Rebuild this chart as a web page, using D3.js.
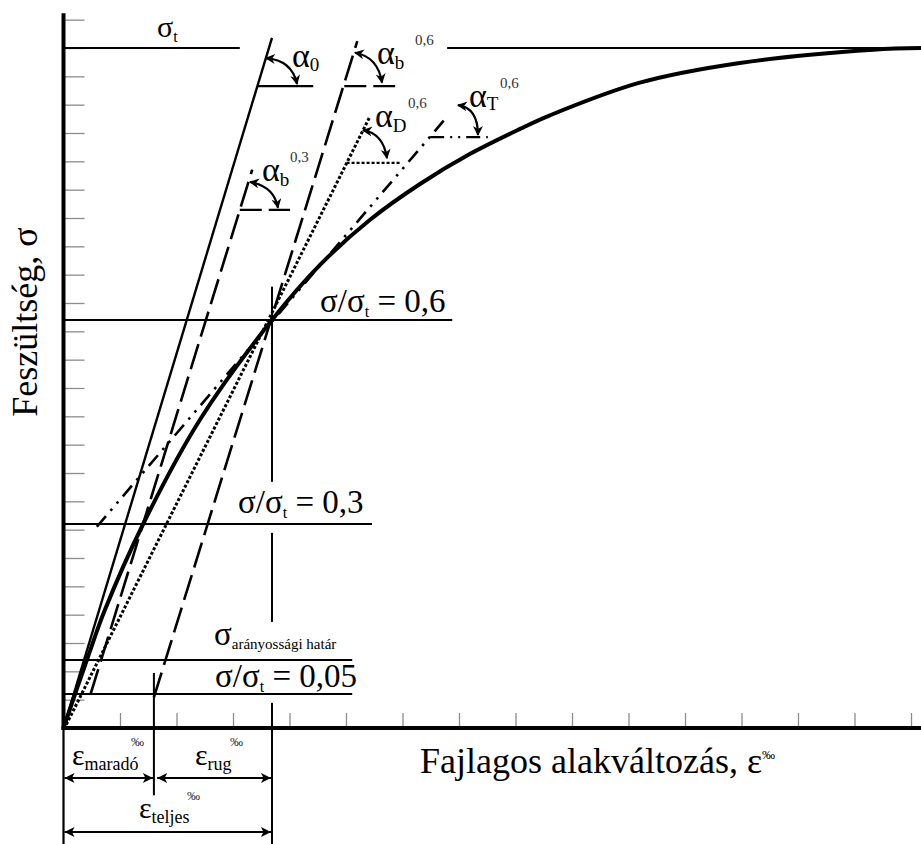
<!DOCTYPE html>
<html lang="hu">
<head>
<meta charset="UTF-8">
<title>Feszültség - alakváltozás</title>
<script src="https://d3js.org/d3.v7.min.js"></script>
<style>
  body { margin: 0; background: #fff; }
  svg { display: block; }
  text { font-family: "Liberation Serif", "Times New Roman", serif; fill: #000; }
  .tick line { stroke: #8c8c8c; stroke-width: 1.3; }
  .tick text { display: none; }
</style>
</head>
<body>
<div id="chart"></div>
<script>
// --- data (ε in tick units, σ as σ/σt) ---
const curveEps = [0, 0.43, 0.73, 1.41, 2.42, 3.69, 4.54, 5.42, 6.31, 7.19, 8.08, 8.61, 10.20, 11.97, 14.33, 15.18];
const curveSig = [0, 0.104, 0.173, 0.300, 0.454, 0.600, 0.681, 0.747, 0.800, 0.844, 0.881, 0.901, 0.949, 0.978, 0.9975, 1.0];

const xTicks = d3.range(1, 16);
const yTicks = d3.range(1, 26).map(k => k / 24);

// construction lines [ε, σ/σt]
const tangent0 = [[0, 0], [3.69, 1.015]];           // α0
const chordB06 = [[1.6, 0.045], [5.2, 1.01]];        // αb 0,6
const chordB03 = [[0.48, 0.05], [3.34, 0.821]];      // αb 0,3
const secantD06 = [[0.05, 0.005], [5.41, 0.897]];    // αD 0,6
const tangentT06 = [[0.59, 0.296], [6.79, 0.899]];   // αT 0,6

// horizontal reference levels
const levels = [0.6, 0.3, 0.10, 0.05];
const levelEnds = [6.88, 5.46, 5.11, 5.11];
const sigmaT = 1;

// angle helpers: horizontal at level, from ε0 to ε1
const angleBases = [
  { s: 0.944, e0: 3.43, e1: 4.42, dash: null },
  { s: 0.944, e0: 4.97, e1: 5.87, dash: "22,7" },
  { s: 0.831, e0: 5.01, e1: 5.96, dash: "3,2" },
  { s: 0.869, e0: 6.49, e1: 7.51, dash: "14,6,2,6,2,6" },
  { s: 0.762, e0: 3.12, e1: 4.01, dash: "22,7" }
];
// arc arrows: start, control, end
const angleArcs = [
  [[3.584, 0.985], [4.044, 0.982], [4.133, 0.947]],
  [[5.159, 0.993], [5.566, 0.987], [5.637, 0.949]],
  [[5.301, 0.879], [5.655, 0.875], [5.726, 0.838]],
  [[6.982, 0.916], [7.336, 0.912], [7.336, 0.872]],
  [[3.301, 0.803], [3.726, 0.797], [3.796, 0.765]]
];

const epsResidual = 1.6;
const epsTotal = 3.69;

const W = 921, H = 844;
const svg = d3.select("#chart").append("svg").attr("width", W).attr("height", H);

const x = d3.scaleLinear().domain([0, 15]).range([63.5, 911]);
const y = d3.scaleLinear().domain([0, 1]).range([728, 48]);

const defs = svg.append("defs");
defs.append("marker").attr("id", "arr").attr("viewBox", "0 0 10 10")
  .attr("refX", 10).attr("refY", 5).attr("markerUnits", "userSpaceOnUse")
  .attr("markerWidth", 15).attr("markerHeight", 10).attr("orient", "auto-start-reverse")
  .append("path").attr("d", "M0,0 L10,5 L0,10 L2.5,5 z").attr("fill", "#000");
defs.append("marker").attr("id", "arrs").attr("viewBox", "0 0 10 10")
  .attr("refX", 9).attr("refY", 5).attr("markerUnits", "userSpaceOnUse")
  .attr("markerWidth", 11).attr("markerHeight", 10).attr("orient", "auto-start-reverse")
  .append("path").attr("d", "M0,0 L10,5 L0,10 L3,5 z").attr("fill", "#000");

const line = d3.line().x(d => x(d[0])).y(d => y(d[1]));

// ticks
svg.append("g").attr("transform", `translate(${x(0)},0)`)
  .call(d3.axisRight(y).tickValues(yTicks).tickSize(21).tickFormat(""))
  .call(g => g.select(".domain").remove());
svg.append("g").attr("transform", `translate(0,${y(0)})`)
  .call(d3.axisTop(x).tickValues(xTicks).tickSize(15).tickFormat(""))
  .call(g => g.select(".domain").remove());

// reference horizontal lines
svg.append("g").selectAll("line").data(levels).join("line")
  .attr("x1", x(0)).attr("x2", (d, i) => x(levelEnds[i]))
  .attr("y1", d => y(d)).attr("y2", d => y(d))
  .attr("stroke", "#000").attr("stroke-width", 2);

// σt line (two parts)
[[0, 3.12], [6.79, 15.3]].forEach(r => {
  svg.append("line").attr("x1", x(r[0])).attr("x2", x(r[1]))
    .attr("y1", y(sigmaT)).attr("y2", y(sigmaT))
    .attr("stroke", "#000").attr("stroke-width", 2.2);
});

// vertical at 0,6 point (broken for labels)
[[0.649, 0.362], [0.287, 0.156], [0.037, -0.175]].forEach(r => {
  svg.append("line").attr("x1", x(epsTotal)).attr("x2", x(epsTotal))
    .attr("y1", y(r[0])).attr("y2", y(r[1]))
    .attr("stroke", "#000").attr("stroke-width", 2);
});
svg.append("line").attr("x1", x(epsResidual)).attr("x2", x(epsResidual))
  .attr("y1", y(0.081)).attr("y2", y(-0.099)).attr("stroke", "#000").attr("stroke-width", 2);
svg.append("line").attr("x1", x(0)).attr("x2", x(0))
  .attr("y1", y(0)).attr("y2", y(-0.175)).attr("stroke", "#000").attr("stroke-width", 2.2);

// construction lines
const cons = [
  { pts: tangent0, dash: null, w: 2.4 },
  { pts: chordB06, dash: "26,8", w: 2.6 },
  { pts: chordB03, dash: "26,8", w: 2.6 },
  { pts: secantD06, dash: "3,2", w: 3 },
  { pts: tangentT06, dash: "14,7,2.5,7,2.5,7", w: 2.6 }
];
svg.append("g").selectAll("path").data(cons).join("path")
  .attr("d", d => line(d.pts)).attr("fill", "none").attr("stroke", "#000")
  .attr("stroke-width", d => d.w).attr("stroke-dasharray", d => d.dash);

// angle base lines
svg.append("g").selectAll("line").data(angleBases).join("line")
  .attr("x1", d => x(d.e0)).attr("x2", d => x(d.e1))
  .attr("y1", d => y(d.s)).attr("y2", d => y(d.s))
  .attr("stroke", "#000").attr("stroke-width", 2.4).attr("stroke-dasharray", d => d.dash);

// angle arcs
svg.append("g").selectAll("path").data(angleArcs).join("path")
  .attr("d", d => `M${x(d[0][0])},${y(d[0][1])} Q${x(d[1][0])},${y(d[1][1])} ${x(d[2][0])},${y(d[2][1])}`)
  .attr("fill", "none").attr("stroke", "#000").attr("stroke-width", 2.2)
  .attr("marker-start", "url(#arrs)").attr("marker-end", "url(#arrs)");

// main curve
const curvePts = curveEps.map((e, i) => [e, curveSig[i]]);
svg.append("path").datum(curvePts)
  .attr("d", line.curve(d3.curveCatmullRom.alpha(0.5)))
  .attr("fill", "none").attr("stroke", "#000").attr("stroke-width", 4);

// axes
svg.append("line").attr("x1", x(0)).attr("x2", x(0)).attr("y1", y(0) + 2).attr("y2", y(1.051))
  .attr("stroke", "#000").attr("stroke-width", 4);
svg.append("line").attr("x1", x(0) - 2).attr("x2", W).attr("y1", y(0)).attr("y2", y(0))
  .attr("stroke", "#000").attr("stroke-width", 4);

// strain arrows
const arrows = [[0, epsResidual, -0.0735], [epsResidual + 0.04, epsTotal, -0.0735], [0, epsTotal, -0.153]];
svg.append("g").selectAll("line").data(arrows).join("line")
  .attr("x1", d => x(d[0]) + 1).attr("x2", d => x(d[1]) - 1)
  .attr("y1", d => y(d[2])).attr("y2", d => y(d[2]))
  .attr("stroke", "#000").attr("stroke-width", 2)
  .attr("marker-start", "url(#arr)").attr("marker-end", "url(#arr)");

// --- text ---
function label(px, py, parts) {
  const t = svg.append("text").attr("x", px).attr("y", py);
  parts.forEach(p => {
    const ts = t.append("tspan").text(p.t).style("font-size", p.s + "px");
    if (p.dy) ts.attr("dy", p.dy);
    if (p.x != null) ts.attr("x", p.x);
    if (p.y != null) ts.attr("y", p.y);
    if (p.c) ts.style("fill", p.c);
  });
  return t;
}

label(157, 37, [{ t: "σ", s: 30 }, { t: "t", s: 16, dy: 5 }]);
label(292, 67, [{ t: "α", s: 34 }, { t: "0", s: 19, dy: 4 }]);
label(377, 64, [{ t: "α", s: 34 }, { t: "b", s: 19, dy: 5 }, { t: "0,6", s: 15, x: 415, y: 45, c: "#333" }]);
label(375, 127, [{ t: "α", s: 34 }, { t: "D", s: 19, dy: 5 }, { t: "0,6", s: 15, x: 408, y: 108, c: "#333" }]);
label(469, 107, [{ t: "α", s: 34 }, { t: "T", s: 19, dy: 3 }, { t: "0,6", s: 15, x: 500, y: 88, c: "#333" }]);
label(262, 181, [{ t: "α", s: 34 }, { t: "b", s: 19, dy: 5 }, { t: "0,3", s: 15, x: 290, y: 162, c: "#333" }]);

const ratio = v => [{ t: "σ/σ", s: 33 }, { t: "t", s: 16, dy: 5 }, { t: " = " + v, s: 33, dy: -5 }];
label(320, 312, ratio("0,6"));
label(238, 513, ratio("0,3"));
label(215, 687, ratio("0,05"));
label(214, 645, [{ t: "σ", s: 33 }, { t: "arányossági határ", s: 15, dy: 4 }]);

label(72, 765, [{ t: "ε", s: 30 }, { t: "maradó", s: 18, dy: 5 }, { t: "‰", s: 13, x: 131, y: 746, c: "#333" }]);
label(195, 765, [{ t: "ε", s: 30 }, { t: "rug", s: 18, dy: 5 }, { t: "‰", s: 13, x: 230, y: 746, c: "#333" }]);
label(139, 818, [{ t: "ε", s: 30 }, { t: "teljes", s: 18, dy: 5 }, { t: "‰", s: 13, x: 187, y: 800, c: "#333" }]);

label(420, 773, [{ t: "Fajlagos alakváltozás, ε", s: 36 }, { t: "‰", s: 13, dy: -14 }]);

svg.append("text").attr("transform", "translate(37,322) rotate(-90)")
  .attr("text-anchor", "middle").style("font-size", "36px").text("Feszültség, σ");
</script>
</body>
</html>
